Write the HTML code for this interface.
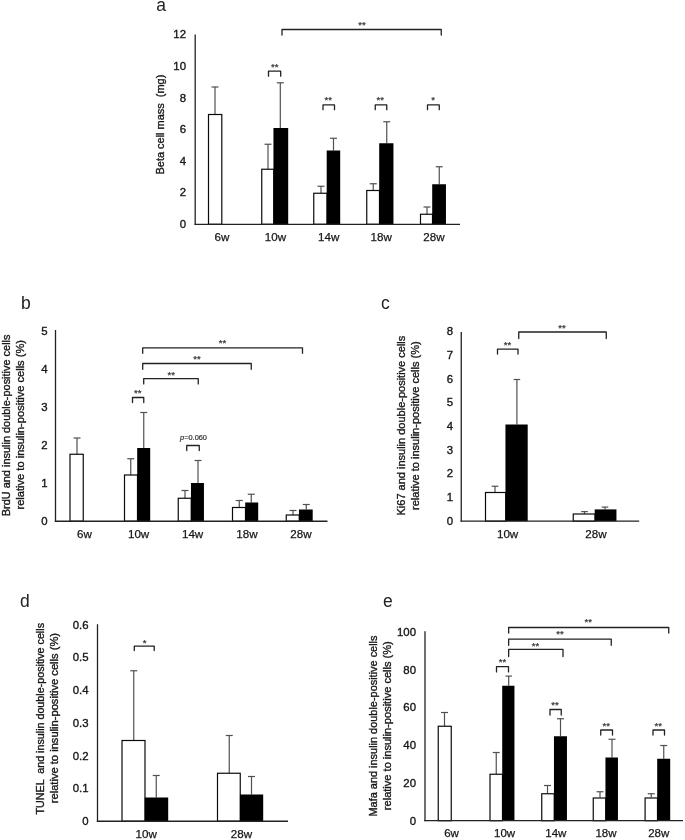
<!DOCTYPE html>
<html><head><meta charset="utf-8"><title>Figure</title>
<style>
html,body{margin:0;padding:0;background:#fff;}
svg{display:block;font-family:"Liberation Sans", Arial, sans-serif;}
</style></head><body>
<svg width="685" height="840" viewBox="0 0 685 840">
<rect width="685" height="840" fill="#fff"/>
<line x1="215" y1="87" x2="215" y2="114.5" stroke="#505050" stroke-width="1.2"/>
<line x1="211.5" y1="87" x2="218.5" y2="87" stroke="#505050" stroke-width="1.2"/>
<line x1="268" y1="144.25" x2="268" y2="169.25" stroke="#505050" stroke-width="1.2"/>
<line x1="264.5" y1="144.25" x2="271.5" y2="144.25" stroke="#505050" stroke-width="1.2"/>
<line x1="280.3" y1="82.8" x2="280.3" y2="128" stroke="#505050" stroke-width="1.2"/>
<line x1="276.8" y1="82.8" x2="283.8" y2="82.8" stroke="#505050" stroke-width="1.2"/>
<line x1="321" y1="186.25" x2="321" y2="193.25" stroke="#505050" stroke-width="1.2"/>
<line x1="317.5" y1="186.25" x2="324.5" y2="186.25" stroke="#505050" stroke-width="1.2"/>
<line x1="333.5" y1="138.25" x2="333.5" y2="150.5" stroke="#505050" stroke-width="1.2"/>
<line x1="330.0" y1="138.25" x2="337.0" y2="138.25" stroke="#505050" stroke-width="1.2"/>
<line x1="373.25" y1="183.75" x2="373.25" y2="190.5" stroke="#505050" stroke-width="1.2"/>
<line x1="369.75" y1="183.75" x2="376.75" y2="183.75" stroke="#505050" stroke-width="1.2"/>
<line x1="386.75" y1="121.75" x2="386.75" y2="143.25" stroke="#505050" stroke-width="1.2"/>
<line x1="383.25" y1="121.75" x2="390.25" y2="121.75" stroke="#505050" stroke-width="1.2"/>
<line x1="427" y1="207" x2="427" y2="214.25" stroke="#505050" stroke-width="1.2"/>
<line x1="423.5" y1="207" x2="430.5" y2="207" stroke="#505050" stroke-width="1.2"/>
<line x1="439.25" y1="166.75" x2="439.25" y2="184.25" stroke="#505050" stroke-width="1.2"/>
<line x1="435.75" y1="166.75" x2="442.75" y2="166.75" stroke="#505050" stroke-width="1.2"/>
<rect x="208.5" y="114.5" width="13.3" height="109.8" fill="#fff" stroke="#0a0a0a" stroke-width="1.2"/>
<rect x="261.75" y="169.25" width="12.0" height="55.05" fill="#fff" stroke="#0a0a0a" stroke-width="1.2"/>
<rect x="273.45" y="128" width="14.75" height="96.3" fill="#000"/>
<rect x="313.75" y="193.25" width="13.25" height="31.05" fill="#fff" stroke="#0a0a0a" stroke-width="1.2"/>
<rect x="326.7" y="150.5" width="13.5" height="73.8" fill="#000"/>
<rect x="366.75" y="190.5" width="12.75" height="33.8" fill="#fff" stroke="#0a0a0a" stroke-width="1.2"/>
<rect x="379.2" y="143.25" width="14.25" height="81.05" fill="#000"/>
<rect x="420.5" y="214.25" width="12.0" height="10.05" fill="#fff" stroke="#0a0a0a" stroke-width="1.2"/>
<rect x="432.2" y="184.25" width="13.75" height="40.05" fill="#000"/>
<line x1="195.2" y1="34.6" x2="195.2" y2="224.95000000000002" stroke="#222" stroke-width="1.3"/>
<line x1="194.54999999999998" y1="224.3" x2="460" y2="224.3" stroke="#222" stroke-width="1.3"/>
<text x="186" y="38.4" font-size="11.4" text-anchor="end" fill="#161616" stroke="#161616" stroke-width="0.35">12</text>
<text x="186" y="70.0" font-size="11.4" text-anchor="end" fill="#161616" stroke="#161616" stroke-width="0.35">10</text>
<text x="186" y="101.6" font-size="11.4" text-anchor="end" fill="#161616" stroke="#161616" stroke-width="0.35">8</text>
<text x="186" y="133.2" font-size="11.4" text-anchor="end" fill="#161616" stroke="#161616" stroke-width="0.35">6</text>
<text x="186" y="164.8" font-size="11.4" text-anchor="end" fill="#161616" stroke="#161616" stroke-width="0.35">4</text>
<text x="186" y="196.4" font-size="11.4" text-anchor="end" fill="#161616" stroke="#161616" stroke-width="0.35">2</text>
<text x="186" y="228.0" font-size="11.4" text-anchor="end" fill="#161616" stroke="#161616" stroke-width="0.35">0</text>
<text x="222" y="241.3" font-size="11.6" text-anchor="middle" fill="#161616" stroke="#161616" stroke-width="0.25">6w</text>
<text x="275.4" y="241.3" font-size="11.6" text-anchor="middle" fill="#161616" stroke="#161616" stroke-width="0.25">10w</text>
<text x="328.7" y="241.3" font-size="11.6" text-anchor="middle" fill="#161616" stroke="#161616" stroke-width="0.25">14w</text>
<text x="381.2" y="241.3" font-size="11.6" text-anchor="middle" fill="#161616" stroke="#161616" stroke-width="0.25">18w</text>
<text x="434" y="241.3" font-size="11.6" text-anchor="middle" fill="#161616" stroke="#161616" stroke-width="0.25">28w</text>
<path d="M282 35.0V29.5H441.25V35.0" fill="none" stroke="#222" stroke-width="1.3" stroke-linejoin="round" stroke-linecap="round"/>
<path d="M268.5 76.2V71.2H280.7V76.2" fill="none" stroke="#222" stroke-width="1.3" stroke-linejoin="round" stroke-linecap="round"/>
<path d="M323 109.7V104.9H334.5V109.7" fill="none" stroke="#222" stroke-width="1.3" stroke-linejoin="round" stroke-linecap="round"/>
<path d="M375.25 109.7V104.9H386.75V109.7" fill="none" stroke="#222" stroke-width="1.3" stroke-linejoin="round" stroke-linecap="round"/>
<path d="M427.5 109.7V104.9H439.25V109.7" fill="none" stroke="#222" stroke-width="1.3" stroke-linejoin="round" stroke-linecap="round"/>
<text x="362" y="27.97" font-size="9.6" text-anchor="middle" fill="#3a3a3a" stroke="#3a3a3a" stroke-width="0.25">**</text>
<text x="274.7" y="69.52" font-size="9.6" text-anchor="middle" fill="#3a3a3a" stroke="#3a3a3a" stroke-width="0.25">**</text>
<text x="328.25" y="103.47" font-size="9.6" text-anchor="middle" fill="#3a3a3a" stroke="#3a3a3a" stroke-width="0.25">**</text>
<text x="380.3" y="103.47" font-size="9.6" text-anchor="middle" fill="#3a3a3a" stroke="#3a3a3a" stroke-width="0.25">**</text>
<text x="433" y="103.47" font-size="9.6" text-anchor="middle" fill="#3a3a3a" stroke="#3a3a3a" stroke-width="0.25">*</text>
<text transform="translate(163.9 124.6) rotate(-90)" font-size="11.7" text-anchor="middle" fill="#161616" stroke="#161616" stroke-width="0.35" textLength="99.8" lengthAdjust="spacingAndGlyphs" xml:space="preserve">Beta cell mass  (mg)</text>
<text x="156.2" y="10.9" font-size="17.5" text-anchor="start" fill="#222" stroke="#222" stroke-width="0">a</text>
<line x1="77" y1="438" x2="77" y2="454.25" stroke="#505050" stroke-width="1.2"/>
<line x1="73.5" y1="438" x2="80.5" y2="438" stroke="#505050" stroke-width="1.2"/>
<line x1="130.75" y1="458.75" x2="130.75" y2="475" stroke="#505050" stroke-width="1.2"/>
<line x1="127.25" y1="458.75" x2="134.25" y2="458.75" stroke="#505050" stroke-width="1.2"/>
<line x1="143.75" y1="412.5" x2="143.75" y2="448" stroke="#505050" stroke-width="1.2"/>
<line x1="140.25" y1="412.5" x2="147.25" y2="412.5" stroke="#505050" stroke-width="1.2"/>
<line x1="185" y1="490.5" x2="185" y2="498.25" stroke="#505050" stroke-width="1.2"/>
<line x1="181.5" y1="490.5" x2="188.5" y2="490.5" stroke="#505050" stroke-width="1.2"/>
<line x1="198" y1="460.5" x2="198" y2="483" stroke="#505050" stroke-width="1.2"/>
<line x1="194.5" y1="460.5" x2="201.5" y2="460.5" stroke="#505050" stroke-width="1.2"/>
<line x1="239.25" y1="500.5" x2="239.25" y2="507.5" stroke="#505050" stroke-width="1.2"/>
<line x1="235.75" y1="500.5" x2="242.75" y2="500.5" stroke="#505050" stroke-width="1.2"/>
<line x1="251.25" y1="494.25" x2="251.25" y2="502.5" stroke="#505050" stroke-width="1.2"/>
<line x1="247.75" y1="494.25" x2="254.75" y2="494.25" stroke="#505050" stroke-width="1.2"/>
<line x1="293" y1="510.5" x2="293" y2="515" stroke="#505050" stroke-width="1.2"/>
<line x1="289.5" y1="510.5" x2="296.5" y2="510.5" stroke="#505050" stroke-width="1.2"/>
<line x1="306.25" y1="504.5" x2="306.25" y2="509.5" stroke="#505050" stroke-width="1.2"/>
<line x1="302.75" y1="504.5" x2="309.75" y2="504.5" stroke="#505050" stroke-width="1.2"/>
<rect x="70" y="454.25" width="13.25" height="67.0" fill="#fff" stroke="#0a0a0a" stroke-width="1.2"/>
<rect x="124.5" y="475" width="13.0" height="46.25" fill="#fff" stroke="#0a0a0a" stroke-width="1.2"/>
<rect x="137.2" y="448" width="13.0" height="73.25" fill="#000"/>
<rect x="178.25" y="498.25" width="13.0" height="23.0" fill="#fff" stroke="#0a0a0a" stroke-width="1.2"/>
<rect x="190.95" y="483" width="13.0" height="38.25" fill="#000"/>
<rect x="232.5" y="507.5" width="13.0" height="13.75" fill="#fff" stroke="#0a0a0a" stroke-width="1.2"/>
<rect x="245.2" y="502.5" width="13.0" height="18.75" fill="#000"/>
<rect x="286.25" y="515" width="13.0" height="6.25" fill="#fff" stroke="#0a0a0a" stroke-width="1.2"/>
<rect x="298.95" y="509.5" width="13.75" height="11.75" fill="#000"/>
<line x1="55.5" y1="330" x2="55.5" y2="521.9" stroke="#222" stroke-width="1.3"/>
<line x1="54.85" y1="521.25" x2="327.5" y2="521.25" stroke="#222" stroke-width="1.3"/>
<text x="47.5" y="335.0" font-size="11.4" text-anchor="end" fill="#161616" stroke="#161616" stroke-width="0.35">5</text>
<text x="47.5" y="373.0" font-size="11.4" text-anchor="end" fill="#161616" stroke="#161616" stroke-width="0.35">4</text>
<text x="47.5" y="411.0" font-size="11.4" text-anchor="end" fill="#161616" stroke="#161616" stroke-width="0.35">3</text>
<text x="47.5" y="449.0" font-size="11.4" text-anchor="end" fill="#161616" stroke="#161616" stroke-width="0.35">2</text>
<text x="47.5" y="487.0" font-size="11.4" text-anchor="end" fill="#161616" stroke="#161616" stroke-width="0.35">1</text>
<text x="47.5" y="525.0" font-size="11.4" text-anchor="end" fill="#161616" stroke="#161616" stroke-width="0.35">0</text>
<text x="84.4" y="538.2" font-size="11.6" text-anchor="middle" fill="#161616" stroke="#161616" stroke-width="0.25">6w</text>
<text x="138.6" y="538.2" font-size="11.6" text-anchor="middle" fill="#161616" stroke="#161616" stroke-width="0.25">10w</text>
<text x="192.6" y="538.2" font-size="11.6" text-anchor="middle" fill="#161616" stroke="#161616" stroke-width="0.25">14w</text>
<text x="246.9" y="538.2" font-size="11.6" text-anchor="middle" fill="#161616" stroke="#161616" stroke-width="0.25">18w</text>
<text x="300.9" y="538.2" font-size="11.6" text-anchor="middle" fill="#161616" stroke="#161616" stroke-width="0.25">28w</text>
<path d="M142.7 353.3V347.8H302.5V353.3" fill="none" stroke="#222" stroke-width="1.3" stroke-linejoin="round" stroke-linecap="round"/>
<path d="M142.7 369.3V363.5H251.25V369.3" fill="none" stroke="#222" stroke-width="1.3" stroke-linejoin="round" stroke-linecap="round"/>
<path d="M143.7 383.9V378.7H198.25V383.9" fill="none" stroke="#222" stroke-width="1.3" stroke-linejoin="round" stroke-linecap="round"/>
<path d="M132.5 402.5V397.5H143.75V402.5" fill="none" stroke="#222" stroke-width="1.3" stroke-linejoin="round" stroke-linecap="round"/>
<path d="M186.75 450.5V445.5H199.25V450.5" fill="none" stroke="#222" stroke-width="1.3" stroke-linejoin="round" stroke-linecap="round"/>
<text x="222.5" y="345.97" font-size="9.6" text-anchor="middle" fill="#3a3a3a" stroke="#3a3a3a" stroke-width="0.25">**</text>
<text x="197" y="362.22" font-size="9.6" text-anchor="middle" fill="#3a3a3a" stroke="#3a3a3a" stroke-width="0.25">**</text>
<text x="171.25" y="377.97" font-size="9.6" text-anchor="middle" fill="#3a3a3a" stroke="#3a3a3a" stroke-width="0.25">**</text>
<text x="137.8" y="395.97" font-size="9.6" text-anchor="middle" fill="#3a3a3a" stroke="#3a3a3a" stroke-width="0.25">**</text>
<text transform="translate(10.3 425.4) rotate(-90)" font-size="11.5" text-anchor="middle" fill="#161616" stroke="#161616" stroke-width="0.35" textLength="181.75" lengthAdjust="spacingAndGlyphs" xml:space="preserve">BrdU and insulin double-positive cells</text>
<text transform="translate(23.6 424.75) rotate(-90)" font-size="11.5" text-anchor="middle" fill="#161616" stroke="#161616" stroke-width="0.35" textLength="169.5" lengthAdjust="spacingAndGlyphs" xml:space="preserve">relative to insulin-positive cells (%)</text>
<text x="20.9" y="308.8" font-size="17.5" text-anchor="start" fill="#222" stroke="#222" stroke-width="0">b</text>
<line x1="495" y1="486.25" x2="495" y2="492.5" stroke="#505050" stroke-width="1.2"/>
<line x1="491.7" y1="486.25" x2="498.3" y2="486.25" stroke="#505050" stroke-width="1.2"/>
<line x1="516.9" y1="379.5" x2="516.9" y2="424.5" stroke="#505050" stroke-width="1.2"/>
<line x1="513.6" y1="379.5" x2="520.1999999999999" y2="379.5" stroke="#505050" stroke-width="1.2"/>
<line x1="584.5" y1="511.6" x2="584.5" y2="514" stroke="#505050" stroke-width="1.2"/>
<line x1="581.2" y1="511.6" x2="587.8" y2="511.6" stroke="#505050" stroke-width="1.2"/>
<line x1="605" y1="507.1" x2="605" y2="509.4" stroke="#505050" stroke-width="1.2"/>
<line x1="601.7" y1="507.1" x2="608.3" y2="507.1" stroke="#505050" stroke-width="1.2"/>
<rect x="485.5" y="492.5" width="20.25" height="28.7" fill="#fff" stroke="#0a0a0a" stroke-width="1.2"/>
<rect x="505.45" y="424.5" width="22.25" height="96.7" fill="#000"/>
<rect x="573.25" y="514" width="21.75" height="7.2" fill="#fff" stroke="#0a0a0a" stroke-width="1.2"/>
<rect x="594.7" y="509.4" width="21.75" height="11.8" fill="#000"/>
<line x1="461.25" y1="332" x2="461.25" y2="521.85" stroke="#222" stroke-width="1.3"/>
<line x1="460.6" y1="521.2" x2="639.2" y2="521.2" stroke="#222" stroke-width="1.3"/>
<text x="453" y="335.1" font-size="11.4" text-anchor="end" fill="#161616" stroke="#161616" stroke-width="0.35">8</text>
<text x="453" y="358.8" font-size="11.4" text-anchor="end" fill="#161616" stroke="#161616" stroke-width="0.35">7</text>
<text x="453" y="382.5" font-size="11.4" text-anchor="end" fill="#161616" stroke="#161616" stroke-width="0.35">6</text>
<text x="453" y="406.2" font-size="11.4" text-anchor="end" fill="#161616" stroke="#161616" stroke-width="0.35">5</text>
<text x="453" y="429.9" font-size="11.4" text-anchor="end" fill="#161616" stroke="#161616" stroke-width="0.35">4</text>
<text x="453" y="453.6" font-size="11.4" text-anchor="end" fill="#161616" stroke="#161616" stroke-width="0.35">3</text>
<text x="453" y="477.3" font-size="11.4" text-anchor="end" fill="#161616" stroke="#161616" stroke-width="0.35">2</text>
<text x="453" y="501.0" font-size="11.4" text-anchor="end" fill="#161616" stroke="#161616" stroke-width="0.35">1</text>
<text x="453" y="524.7" font-size="11.4" text-anchor="end" fill="#161616" stroke="#161616" stroke-width="0.35">0</text>
<text x="507.6" y="537.7" font-size="11.6" text-anchor="middle" fill="#161616" stroke="#161616" stroke-width="0.25">10w</text>
<text x="596" y="537.7" font-size="11.6" text-anchor="middle" fill="#161616" stroke="#161616" stroke-width="0.25">28w</text>
<path d="M518.75 338.5V332H606.25V338.5" fill="none" stroke="#222" stroke-width="1.3" stroke-linejoin="round" stroke-linecap="round"/>
<path d="M497.5 354.1V349.1H518V354.1" fill="none" stroke="#222" stroke-width="1.3" stroke-linejoin="round" stroke-linecap="round"/>
<text x="562" y="330.72" font-size="9.6" text-anchor="middle" fill="#3a3a3a" stroke="#3a3a3a" stroke-width="0.25">**</text>
<text x="507.5" y="347.72" font-size="9.6" text-anchor="middle" fill="#3a3a3a" stroke="#3a3a3a" stroke-width="0.25">**</text>
<text transform="translate(405 425.6) rotate(-90)" font-size="11.5" text-anchor="middle" fill="#161616" stroke="#161616" stroke-width="0.35" textLength="179.75" lengthAdjust="spacingAndGlyphs" xml:space="preserve">Ki67 and insulin double-positive cells</text>
<text transform="translate(418.75 425.6) rotate(-90)" font-size="11.5" text-anchor="middle" fill="#161616" stroke="#161616" stroke-width="0.35" textLength="168.75" lengthAdjust="spacingAndGlyphs" xml:space="preserve">relative to insulin-positive cells (%)</text>
<text x="381.1" y="308.8" font-size="17.5" text-anchor="start" fill="#222" stroke="#222" stroke-width="0">c</text>
<line x1="133.75" y1="670.75" x2="133.75" y2="740.5" stroke="#505050" stroke-width="1.2"/>
<line x1="130.25" y1="670.75" x2="137.25" y2="670.75" stroke="#505050" stroke-width="1.2"/>
<line x1="156.25" y1="775.5" x2="156.25" y2="797.5" stroke="#505050" stroke-width="1.2"/>
<line x1="152.75" y1="775.5" x2="159.75" y2="775.5" stroke="#505050" stroke-width="1.2"/>
<line x1="229.25" y1="735.5" x2="229.25" y2="773.25" stroke="#505050" stroke-width="1.2"/>
<line x1="225.75" y1="735.5" x2="232.75" y2="735.5" stroke="#505050" stroke-width="1.2"/>
<line x1="251.5" y1="776.5" x2="251.5" y2="794.5" stroke="#505050" stroke-width="1.2"/>
<line x1="248.0" y1="776.5" x2="255.0" y2="776.5" stroke="#505050" stroke-width="1.2"/>
<rect x="122" y="740.5" width="23" height="80.75" fill="#fff" stroke="#0a0a0a" stroke-width="1.2"/>
<rect x="144.7" y="797.5" width="23.5" height="23.75" fill="#000"/>
<rect x="217.5" y="773.25" width="22.75" height="48.0" fill="#fff" stroke="#0a0a0a" stroke-width="1.2"/>
<rect x="239.95" y="794.5" width="23.25" height="26.75" fill="#000"/>
<line x1="97.5" y1="624.25" x2="97.5" y2="821.9" stroke="#222" stroke-width="1.3"/>
<line x1="96.85" y1="821.25" x2="288" y2="821.25" stroke="#222" stroke-width="1.3"/>
<text x="88.5" y="628.7" font-size="11.4" text-anchor="end" fill="#161616" stroke="#161616" stroke-width="0.35">0.6</text>
<text x="88.5" y="661.4" font-size="11.4" text-anchor="end" fill="#161616" stroke="#161616" stroke-width="0.35">0.5</text>
<text x="88.5" y="694.1" font-size="11.4" text-anchor="end" fill="#161616" stroke="#161616" stroke-width="0.35">0.4</text>
<text x="88.5" y="726.8" font-size="11.4" text-anchor="end" fill="#161616" stroke="#161616" stroke-width="0.35">0.3</text>
<text x="88.5" y="759.5" font-size="11.4" text-anchor="end" fill="#161616" stroke="#161616" stroke-width="0.35">0.2</text>
<text x="88.5" y="792.2" font-size="11.4" text-anchor="end" fill="#161616" stroke="#161616" stroke-width="0.35">0.1</text>
<text x="88.5" y="824.9" font-size="11.4" text-anchor="end" fill="#161616" stroke="#161616" stroke-width="0.35">0</text>
<text x="146.25" y="838" font-size="11.6" text-anchor="middle" fill="#161616" stroke="#161616" stroke-width="0.25">10w</text>
<text x="241.4" y="838" font-size="11.6" text-anchor="middle" fill="#161616" stroke="#161616" stroke-width="0.25">28w</text>
<path d="M134.3 650.6V646.1H154.2V650.6" fill="none" stroke="#222" stroke-width="1.3" stroke-linejoin="round" stroke-linecap="round"/>
<text x="144.6" y="646.22" font-size="9.6" text-anchor="middle" fill="#3a3a3a" stroke="#3a3a3a" stroke-width="0.25">*</text>
<text transform="translate(43.75 718.75) rotate(-90)" font-size="11.5" text-anchor="middle" fill="#161616" stroke="#161616" stroke-width="0.35" textLength="191.5" lengthAdjust="spacingAndGlyphs" xml:space="preserve">TUNEL  and insulin double-positive cells</text>
<text transform="translate(57.5 718.1) rotate(-90)" font-size="11.5" text-anchor="middle" fill="#161616" stroke="#161616" stroke-width="0.35" textLength="170.25" lengthAdjust="spacingAndGlyphs" xml:space="preserve">relative to insulin-positive cells (%)</text>
<text x="20.1" y="606.8" font-size="17.5" text-anchor="start" fill="#222" stroke="#222" stroke-width="0">d</text>
<line x1="444.5" y1="712.5" x2="444.5" y2="726.25" stroke="#505050" stroke-width="1.2"/>
<line x1="441.0" y1="712.5" x2="448.0" y2="712.5" stroke="#505050" stroke-width="1.2"/>
<line x1="496.25" y1="752.5" x2="496.25" y2="774.25" stroke="#505050" stroke-width="1.2"/>
<line x1="492.75" y1="752.5" x2="499.75" y2="752.5" stroke="#505050" stroke-width="1.2"/>
<line x1="508.7" y1="676.1" x2="508.7" y2="685.75" stroke="#505050" stroke-width="1.2"/>
<line x1="505.5" y1="676.1" x2="511.9" y2="676.1" stroke="#505050" stroke-width="1.2"/>
<line x1="547.5" y1="785.5" x2="547.5" y2="793.75" stroke="#505050" stroke-width="1.2"/>
<line x1="544.0" y1="785.5" x2="551.0" y2="785.5" stroke="#505050" stroke-width="1.2"/>
<line x1="560.5" y1="718.75" x2="560.5" y2="736.25" stroke="#505050" stroke-width="1.2"/>
<line x1="557.0" y1="718.75" x2="564.0" y2="718.75" stroke="#505050" stroke-width="1.2"/>
<line x1="600" y1="791.75" x2="600" y2="797.5" stroke="#505050" stroke-width="1.2"/>
<line x1="596.5" y1="791.75" x2="603.5" y2="791.75" stroke="#505050" stroke-width="1.2"/>
<line x1="612" y1="739.25" x2="612" y2="757.5" stroke="#505050" stroke-width="1.2"/>
<line x1="608.5" y1="739.25" x2="615.5" y2="739.25" stroke="#505050" stroke-width="1.2"/>
<line x1="651.25" y1="793.75" x2="651.25" y2="797.5" stroke="#505050" stroke-width="1.2"/>
<line x1="647.75" y1="793.75" x2="654.75" y2="793.75" stroke="#505050" stroke-width="1.2"/>
<line x1="663.75" y1="745.5" x2="663.75" y2="758.75" stroke="#505050" stroke-width="1.2"/>
<line x1="660.25" y1="745.5" x2="667.25" y2="745.5" stroke="#505050" stroke-width="1.2"/>
<rect x="438.25" y="726.25" width="13.0" height="94.45" fill="#fff" stroke="#0a0a0a" stroke-width="1.2"/>
<rect x="490" y="774.25" width="12.5" height="46.45" fill="#fff" stroke="#0a0a0a" stroke-width="1.2"/>
<rect x="502.2" y="685.75" width="12.25" height="134.95" fill="#000"/>
<rect x="541.75" y="793.75" width="12.5" height="26.95" fill="#fff" stroke="#0a0a0a" stroke-width="1.2"/>
<rect x="553.95" y="736.25" width="13.0" height="84.45" fill="#000"/>
<rect x="593.25" y="798" width="12.5" height="22.7" fill="#fff" stroke="#0a0a0a" stroke-width="1.2"/>
<rect x="605.45" y="757.5" width="12.5" height="63.2" fill="#000"/>
<rect x="645.1" y="798" width="12.4" height="22.7" fill="#fff" stroke="#0a0a0a" stroke-width="1.2"/>
<rect x="657.2" y="758.75" width="13.0" height="61.95" fill="#000"/>
<line x1="425" y1="631.25" x2="425" y2="821.35" stroke="#222" stroke-width="1.3"/>
<line x1="424.35" y1="820.7" x2="683" y2="820.7" stroke="#222" stroke-width="1.3"/>
<text x="416" y="635.8" font-size="11.4" text-anchor="end" fill="#161616" stroke="#161616" stroke-width="0.35">100</text>
<text x="416" y="673.6" font-size="11.4" text-anchor="end" fill="#161616" stroke="#161616" stroke-width="0.35">80</text>
<text x="416" y="711.4" font-size="11.4" text-anchor="end" fill="#161616" stroke="#161616" stroke-width="0.35">60</text>
<text x="416" y="749.2" font-size="11.4" text-anchor="end" fill="#161616" stroke="#161616" stroke-width="0.35">40</text>
<text x="416" y="787.0" font-size="11.4" text-anchor="end" fill="#161616" stroke="#161616" stroke-width="0.35">20</text>
<text x="416" y="824.8" font-size="11.4" text-anchor="end" fill="#161616" stroke="#161616" stroke-width="0.35">0</text>
<text x="451.5" y="837.4" font-size="11.5" text-anchor="middle" fill="#161616" stroke="#161616" stroke-width="0.25">6w</text>
<text x="504.6" y="837.4" font-size="11.5" text-anchor="middle" fill="#161616" stroke="#161616" stroke-width="0.25">10w</text>
<text x="555.8" y="837.4" font-size="11.5" text-anchor="middle" fill="#161616" stroke="#161616" stroke-width="0.25">14w</text>
<text x="606" y="837.4" font-size="11.5" text-anchor="middle" fill="#161616" stroke="#161616" stroke-width="0.25">18w</text>
<text x="658.7" y="837.4" font-size="11.5" text-anchor="middle" fill="#161616" stroke="#161616" stroke-width="0.25">28w</text>
<path d="M508.65 633.1V627.5H668.75V633.1" fill="none" stroke="#222" stroke-width="1.3" stroke-linejoin="round" stroke-linecap="round"/>
<path d="M508.65 645.3000000000001V639.1H611.25V645.3000000000001" fill="none" stroke="#222" stroke-width="1.3" stroke-linejoin="round" stroke-linecap="round"/>
<path d="M508.65 656.5V649.4H563V656.5" fill="none" stroke="#222" stroke-width="1.3" stroke-linejoin="round" stroke-linecap="round"/>
<path d="M496.5 671.9V666.6H508.5V671.9" fill="none" stroke="#222" stroke-width="1.3" stroke-linejoin="round" stroke-linecap="round"/>
<path d="M550 715.0V709.5H561.25V715.0" fill="none" stroke="#222" stroke-width="1.3" stroke-linejoin="round" stroke-linecap="round"/>
<path d="M600.75 735V730H612.5V735" fill="none" stroke="#222" stroke-width="1.3" stroke-linejoin="round" stroke-linecap="round"/>
<path d="M653 735V730H664.5V735" fill="none" stroke="#222" stroke-width="1.3" stroke-linejoin="round" stroke-linecap="round"/>
<text x="588.25" y="625.47" font-size="9.6" text-anchor="middle" fill="#3a3a3a" stroke="#3a3a3a" stroke-width="0.25">**</text>
<text x="560" y="637.47" font-size="9.6" text-anchor="middle" fill="#3a3a3a" stroke="#3a3a3a" stroke-width="0.25">**</text>
<text x="535.5" y="649.22" font-size="9.6" text-anchor="middle" fill="#3a3a3a" stroke="#3a3a3a" stroke-width="0.25">**</text>
<text x="502.5" y="665.47" font-size="9.6" text-anchor="middle" fill="#3a3a3a" stroke="#3a3a3a" stroke-width="0.25">**</text>
<text x="555" y="708.47" font-size="9.6" text-anchor="middle" fill="#3a3a3a" stroke="#3a3a3a" stroke-width="0.25">**</text>
<text x="606.25" y="728.72" font-size="9.6" text-anchor="middle" fill="#3a3a3a" stroke="#3a3a3a" stroke-width="0.25">**</text>
<text x="658.25" y="728.72" font-size="9.6" text-anchor="middle" fill="#3a3a3a" stroke="#3a3a3a" stroke-width="0.25">**</text>
<text transform="translate(377 726) rotate(-90)" font-size="11.5" text-anchor="middle" fill="#161616" stroke="#161616" stroke-width="0.35" textLength="181" lengthAdjust="spacingAndGlyphs" xml:space="preserve">Mafa and insulin double-positive cells</text>
<text transform="translate(390.5 725.7) rotate(-90)" font-size="11.5" text-anchor="middle" fill="#161616" stroke="#161616" stroke-width="0.35" textLength="168.9" lengthAdjust="spacingAndGlyphs" xml:space="preserve">relative to insulin-positive cells (%)</text>
<text x="382.9" y="606.9" font-size="17.5" text-anchor="start" fill="#222" stroke="#222" stroke-width="0">e</text>
<text x="193.5" y="440.2" font-size="7.4" text-anchor="middle" fill="#333" stroke="#333" stroke-width="0.2"><tspan font-style="italic">p</tspan>=0.060</text>
</svg>
</body></html>
